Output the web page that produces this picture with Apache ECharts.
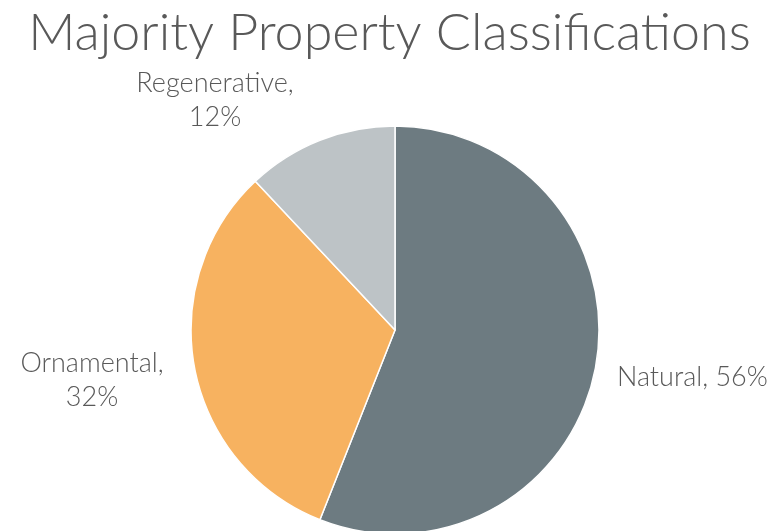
<!DOCTYPE html>
<html>
<head>
<meta charset="utf-8">
<script src="https://cdn.jsdelivr.net/npm/echarts@6/dist/echarts.min.js"></script>
<style>
  html, body { margin: 0; padding: 0; background: #fff; }
  #chart { width: 779px; height: 531px; }
</style>
</head>
<body>
<div id="chart"></div>
<script>
var categories = ['Natural', 'Ornamental', 'Regenerative'];
var shares = [56, 32, 12];
var sliceColors = ['#6D7B81', '#F7B260', '#BDC3C6'];

// where each label sits (layout only)
var labelSpots = [
  { x: 617, y: 377, align: 'left' },
  { x: 92, y: 380, align: 'center' },
  { x: 215, y: 100, align: 'center' }
];

window.onload = function(){
	var myChart = echarts.init(document.getElementById('chart'));

	var pieData = categories.map(function(name, i){
		return {
			name: name,
			value: shares[i],
			itemStyle: { color: sliceColors[i] },
			label: { formatter: i == 0 ? '{b}, {c}%' : '{b},\n{c}%' }
		};
	});

	var option = {
		backgroundColor: '#fff',
		animation: false,
		title: {
			text: 'Majority Property Classifications',
			left: 'center',
			top: 2,
			textStyle: {
				fontFamily: 'Lato',
				fontWeight: 300,
				fontSize: 52,
				color: '#595959'
			}
		},
		series: [
			{
				type: 'pie',
				center: [395, 330],
				radius: 204,
				startAngle: 90,
				clockwise: true,
				data: pieData,
				itemStyle: { borderColor: '#fff', borderWidth: 1.5 },
				label: {
					show: true,
					position: 'outside',
					fontFamily: 'Lato',
					fontWeight: 300,
					fontSize: 27,
					lineHeight: 34,
					color: '#595959',
					align: 'center',
					overflow: 'none'
				},
				labelLine: { show: false },
				labelLayout: function(params){
					var s = labelSpots[params.dataIndex];
					return { x: s.x, y: s.y, align: s.align, verticalAlign: 'middle' };
				},
				emphasis: { disabled: true }
			}
		]
	};

	myChart.setOption(option);
};
</script>
</body>
</html>
